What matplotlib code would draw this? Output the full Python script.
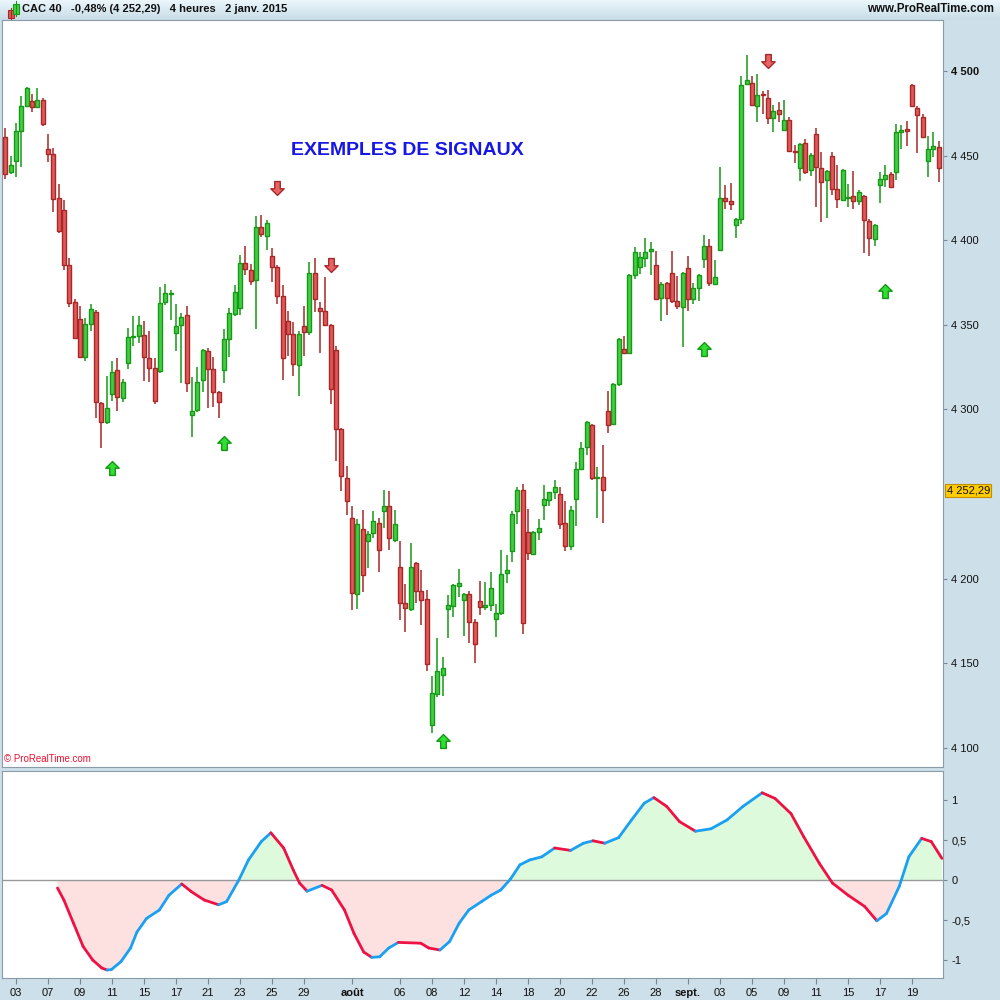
import numpy as np
import pandas as pd
import matplotlib
matplotlib.use("Agg")
import matplotlib.pyplot as plt
from matplotlib.path import Path
from matplotlib.collections import LineCollection
from matplotlib.patches import Rectangle

plt.rcParams['font.family'] = ['Liberation Sans', 'DejaVu Sans']

# CAC 40, bougies 4 heures (3 par jour), 2 juil. -> 22 sept. 2014
opens = [4460.8, 4440.1, 4446.6, 4464.4, 4479.1, 4482.1, 4478.6, 4482.7, 4453.7, 4450.8,
         4424.8, 4417.7, 4385.2, 4363.3, 4353.3, 4330.8, 4350.3, 4357.4, 4303.7, 4292.4,
         4309.0, 4323.2, 4306.6, 4327.3, 4343.0, 4343.3, 4343.8, 4330.3, 4324.3, 4322.6,
         4363.3, 4368.2, 4345.4, 4349.8, 4355.7, 4296.6, 4299.5, 4317.3, 4334.4, 4323.8,
         4310.2, 4323.2, 4341.5, 4356.3, 4359.8, 4386.4, 4382.3, 4376.3, 4407.7, 4402.3,
         4390.5, 4384.0, 4366.9, 4352.1, 4344.4, 4326.1, 4349.2, 4345.6, 4380.5, 4359.8,
         4358.0, 4349.8, 4335.0, 4288.3, 4259.4, 4235.7, 4190.8, 4229.2, 4222.1, 4226.9,
         4232.8, 4239.9, 4242.8, 4222.7, 4206.8, 4185.5, 4181.9, 4209.1, 4192.6, 4187.9,
         4113.4, 4131.7, 4143.0, 4181.9, 4183.7, 4195.5, 4187.3, 4190.8, 4174.3, 4186.7,
         4183.1, 4184.3, 4176.0, 4179.6, 4203.2, 4216.2, 4239.9, 4252.3, 4227.5, 4214.5,
         4227.5, 4243.4, 4246.4, 4251.1, 4249.9, 4232.8, 4219.2, 4246.9, 4264.7, 4277.7,
         4290.7, 4259.6, 4259.9, 4298.9, 4291.3, 4314.9, 4335.6, 4333.2, 4379.3, 4384.0,
         4389.3, 4393.5, 4385.2, 4365.7, 4374.6, 4380.5, 4363.9, 4360.4, 4383.4, 4365.1,
         4371.6, 4388.7, 4396.4, 4374.0, 4394.1, 4424.8, 4423.0, 4408.8, 4412.4, 4492.1,
         4492.7, 4479.1, 4486.4, 4483.9, 4472.1, 4476.8, 4465.0, 4470.9, 4452.9, 4442.5,
         4457.3, 4441.3, 4462.6, 4442.5, 4435.4, 4449.6, 4430.1, 4423.6, 4425.2, 4426.0,
         4423.0, 4426.0, 4411.2, 4400.6, 4432.5, 4436.0, 4439.0, 4440.1, 4463.8, 4465.6,
         4491.6, 4478.0, 4472.6, 4446.6, 4453.7, 4454.9]
highs = [4466.3, 4449.6, 4469.1, 4485.1, 4490.4, 4486.2, 4489.8, 4483.9, 4462.8, 4454.3,
         4433.1, 4423.6, 4389.3, 4365.1, 4361.0, 4353.9, 4362.2, 4358.5, 4304.3, 4319.6,
         4328.5, 4330.3, 4317.9, 4348.0, 4355.1, 4355.1, 4352.1, 4346.2, 4330.3, 4372.2,
         4374.0, 4370.6, 4362.3, 4356.8, 4361.2, 4319.2, 4325.1, 4335.6, 4336.2, 4330.8,
         4311.1, 4347.6, 4360.0, 4373.4, 4391.1, 4396.6, 4385.8, 4414.2, 4414.7, 4411.8,
         4395.2, 4385.2, 4373.4, 4358.0, 4351.5, 4346.2, 4361.2, 4387.0, 4389.3, 4363.3,
         4378.1, 4350.5, 4337.3, 4289.0, 4266.4, 4242.8, 4235.1, 4240.4, 4228.0, 4239.9,
         4235.7, 4252.3, 4251.7, 4240.4, 4222.1, 4196.7, 4221.0, 4210.0, 4205.0, 4193.2,
         4142.4, 4164.8, 4153.6, 4190.2, 4196.8, 4205.6, 4191.4, 4192.6, 4176.0, 4198.5,
         4197.9, 4203.8, 4184.9, 4216.8, 4213.9, 4239.9, 4254.0, 4255.8, 4241.0, 4228.0,
         4235.1, 4255.2, 4251.5, 4258.2, 4254.0, 4245.8, 4242.8, 4268.8, 4280.6, 4293.0,
         4291.5, 4265.9, 4278.9, 4310.8, 4315.5, 4342.1, 4343.3, 4379.9, 4395.8, 4392.9,
         4401.2, 4398.8, 4393.5, 4375.2, 4375.2, 4393.5, 4378.7, 4381.0, 4390.5, 4374.6,
         4379.9, 4402.9, 4400.6, 4388.2, 4443.1, 4432.5, 4433.7, 4413.0, 4496.9, 4509.3,
         4496.9, 4498.0, 4488.0, 4488.6, 4479.7, 4481.5, 4482.7, 4472.6, 4456.1, 4457.3,
         4459.6, 4451.4, 4466.1, 4452.0, 4441.3, 4452.0, 4444.3, 4441.9, 4433.1, 4440.7,
         4429.5, 4426.6, 4412.4, 4409.4, 4440.1, 4444.3, 4440.1, 4468.5, 4467.9, 4470.3,
         4492.1, 4479.1, 4474.4, 4461.4, 4463.8, 4458.5]
lows = [4436.0, 4439.0, 4437.2, 4443.1, 4478.6, 4476.0, 4478.0, 4467.5, 4446.1, 4416.5,
        4404.1, 4382.3, 4360.4, 4341.5, 4330.3, 4328.5, 4346.2, 4294.8, 4277.1, 4291.5,
        4304.8, 4298.9, 4304.3, 4323.8, 4337.3, 4339.1, 4316.7, 4316.1, 4303.1, 4321.5,
        4361.6, 4352.9, 4334.7, 4315.5, 4310.5, 4283.9, 4298.4, 4310.2, 4300.7, 4301.7,
        4294.8, 4315.5, 4331.2, 4355.5, 4355.7, 4379.5, 4373.4, 4347.4, 4401.7, 4394.1,
        4375.2, 4362.2, 4317.3, 4331.8, 4319.6, 4307.8, 4331.8, 4343.8, 4357.4, 4333.6,
        4349.2, 4303.1, 4269.8, 4251.7, 4237.5, 4181.4, 4181.9, 4192.0, 4206.2, 4223.9,
        4203.8, 4229.8, 4216.8, 4221.5, 4175.6, 4168.7, 4181.0, 4185.5, 4172.5, 4145.7,
        4108.7, 4130.0, 4130.6, 4164.8, 4177.2, 4189.0, 4166.0, 4161.9, 4150.1, 4178.4,
        4181.4, 4180.8, 4165.4, 4178.8, 4197.3, 4209.7, 4232.2, 4167.2, 4210.9, 4214.0,
        4222.7, 4234.5, 4242.8, 4246.9, 4229.2, 4216.2, 4216.8, 4231.0, 4264.0, 4272.9,
        4258.5, 4235.7, 4232.8, 4285.9, 4290.7, 4313.7, 4332.6, 4332.6, 4376.9, 4379.9,
        4384.0, 4379.3, 4364.5, 4352.5, 4355.7, 4362.8, 4359.2, 4336.8, 4358.0, 4362.2,
        4363.9, 4383.4, 4372.8, 4373.4, 4393.5, 4418.3, 4417.7, 4401.2, 4409.4, 4491.6,
        4479.1, 4469.7, 4474.4, 4468.5, 4463.8, 4469.7, 4464.4, 4452.0, 4445.5, 4434.8,
        4439.0, 4437.8, 4419.5, 4410.6, 4413.0, 4426.6, 4418.9, 4423.0, 4419.5, 4418.3,
        4420.6, 4392.3, 4390.5, 4396.4, 4421.8, 4431.3, 4430.7, 4435.4, 4453.7, 4455.5,
        4478.6, 4451.4, 4460.2, 4437.2, 4449.0, 4434.2]
closes = [4439.0, 4444.3, 4464.4, 4479.1, 4489.8, 4478.6, 4482.7, 4468.5, 4450.8, 4424.2,
          4405.3, 4385.2, 4362.8, 4342.1, 4330.8, 4350.3, 4359.2, 4304.3, 4292.4, 4300.7,
          4322.0, 4307.2, 4316.1, 4342.7, 4343.5, 4349.8, 4330.8, 4324.3, 4304.8, 4362.8,
          4368.7, 4368.6, 4349.3, 4354.7, 4315.5, 4298.9, 4316.1, 4335.0, 4323.8, 4310.2,
          4304.3, 4341.5, 4356.8, 4369.3, 4386.4, 4382.8, 4375.8, 4407.7, 4403.5, 4410.0,
          4384.0, 4366.9, 4330.3, 4344.4, 4326.7, 4344.4, 4345.6, 4380.5, 4365.1, 4358.0,
          4349.8, 4311.9, 4288.3, 4260.5, 4245.8, 4191.4, 4232.2, 4202.0, 4226.3, 4234.0,
          4216.8, 4242.8, 4223.9, 4232.2, 4185.5, 4182.5, 4206.8, 4192.6, 4187.3, 4149.5,
          4132.3, 4145.3, 4147.1, 4184.3, 4196.1, 4197.3, 4190.8, 4174.3, 4161.3, 4183.1,
          4184.3, 4194.4, 4179.6, 4202.6, 4205.0, 4238.1, 4252.3, 4173.7, 4215.0, 4227.5,
          4229.8, 4246.9, 4251.1, 4254.0, 4232.2, 4219.2, 4240.4, 4264.7, 4277.1, 4292.4,
          4259.4, 4260.2, 4252.3, 4290.7, 4314.9, 4341.5, 4333.2, 4379.3, 4392.9, 4389.9,
          4392.9, 4394.7, 4365.1, 4374.0, 4365.7, 4363.9, 4361.0, 4380.5, 4365.1, 4371.6,
          4379.3, 4396.4, 4374.6, 4378.1, 4424.8, 4423.0, 4421.2, 4412.4, 4491.6, 4494.5,
          4479.7, 4485.6, 4486.0, 4472.1, 4476.2, 4474.4, 4470.9, 4452.6, 4452.3, 4456.7,
          4440.1, 4450.2, 4443.1, 4434.2, 4440.7, 4430.1, 4424.2, 4441.3, 4425.6, 4423.0,
          4428.3, 4411.8, 4401.2, 4408.8, 4436.0, 4438.4, 4431.3, 4463.8, 4465.0, 4464.4,
          4479.1, 4473.8, 4460.8, 4453.7, 4455.5, 4442.5]

# signaux : numero de bougie et niveau de la fleche
buy_idx = [20, 41, 82, 131, 165]
buy_lvl = [4265.4, 4280.2, 4104.1, 4335.7, 4370.0]
sell_idx = [51, 61, 143]
sell_lvl = [4430.9, 4385.4, 4505.9]

# oscillateur (position en bougies, valeur)
osc_x = [9.8, 11.0, 12.8, 14.6, 16.4, 18.1, 19.1, 19.9, 21.7, 23.5, 24.7, 26.5, 28.9, 30.7,
         33.1, 34.9, 37.3, 40.0, 41.5, 43.8, 45.6, 48.0, 49.8, 52.2, 54.0, 55.2, 56.6, 59.4,
         61.2, 63.6, 65.4, 67.2, 68.7, 70.2, 71.9, 73.7, 77.9, 79.4, 81.5, 83.3, 85.1, 86.9,
         89.3, 91.1, 92.9, 94.7, 96.5, 98.3, 100.6, 103.0, 106.0, 108.4, 110.2, 112.4, 115.0,
         117.4, 119.8, 121.6, 124.0, 126.4, 129.4, 132.3, 135.3, 138.3, 141.9, 144.3, 147.3,
         149.7, 152.6, 155.1, 158.0, 161.1, 163.4, 165.2, 167.6, 169.4, 171.8, 173.6, 175.6]
osc_v = [-0.10, -0.25, -0.54, -0.83, -1.00, -1.10, -1.125, -1.12, -1.02, -0.85, -0.65, -0.48,
         -0.375, -0.19, -0.05, -0.146, -0.25, -0.31, -0.27, 0.0, 0.25, 0.48, 0.59, 0.40, 0.125,
         -0.04, -0.14, -0.067, -0.125, -0.375, -0.67, -0.90, -0.967, -0.96, -0.85, -0.78, -0.79,
         -0.85, -0.875, -0.77, -0.54, -0.375, -0.27, -0.19, -0.125, 0.01, 0.19, 0.25, 0.29, 0.40,
         0.37, 0.46, 0.49, 0.46, 0.53, 0.75, 0.96, 1.03, 0.92, 0.73, 0.61, 0.64, 0.75, 0.92, 1.09,
         1.02, 0.83, 0.54, 0.21, -0.04, -0.19, -0.33, -0.51, -0.42, -0.08, 0.29, 0.52, 0.48, 0.27]

tick_dates = ['2014-07-03', '2014-07-07', '2014-07-09', '2014-07-11', '2014-07-15', '2014-07-17',
              '2014-07-21', '2014-07-23', '2014-07-25', '2014-07-29', '2014-08-01', '2014-08-06',
              '2014-08-08', '2014-08-12', '2014-08-14', '2014-08-18', '2014-08-20', '2014-08-22',
              '2014-08-26', '2014-08-28', '2014-09-01', '2014-09-03', '2014-09-05', '2014-09-09',
              '2014-09-11', '2014-09-15', '2014-09-17', '2014-09-19']
tick_labels = ['03', '07', '09', '11', '15', '17', '21', '23', '25', '29', 'août', '06', '08',
               '12', '14', '18', '20', '22', '26', '28', 'sept.', '03', '05', '09', '11', '15',
               '17', '19']

# 4 250 est cache par l'etiquette du dernier cours
price_ticks = [4100, 4150, 4200, 4300, 4350, 4400, 4450, 4500]
last_price = 4252.29

GREEN_FILL, GREEN_EDGE = '#44cc44', '#169916'
RED_FILL, RED_EDGE = '#e05858', '#a82828'
PANEL_BG = '#cddfe8'

o = np.array(opens); h = np.array(highs); l = np.array(lows); c = np.array(closes)
n = len(o)
x = np.arange(n)

# position des dates : 3 bougies par jour, la premiere bougie = 2e du 2 juillet
days = pd.bdate_range('2014-07-02', '2014-09-30')
day_pos = {d.strftime('%Y-%m-%d'): 3 * i - 1 for i, d in enumerate(days)}
tick_pos = [day_pos[d] for d in tick_dates]

fig = plt.figure(figsize=(10, 10), dpi=100)
fig.patch.set_facecolor(PANEL_BG)

# bandeau du haut
hdr = fig.add_axes([0, 0.98, 1, 0.02])
grad = np.linspace(0, 1, 20).reshape(-1, 1)
hdr.imshow(grad, aspect='auto', cmap=matplotlib.colors.LinearSegmentedColormap.from_list(
    'hdr', ['#eaf6fb', '#c9dde8']), extent=[0, 1, 0, 1])
hdr.set_axis_off()
hdr.add_patch(Rectangle((0.008, 0.12), 0.006, 0.4, facecolor=RED_FILL, edgecolor=RED_EDGE, lw=0.8))
hdr.plot([0.011, 0.011], [0.05, 0.6], color=RED_EDGE, lw=0.8)
hdr.add_patch(Rectangle((0.013, 0.3), 0.006, 0.5, facecolor=GREEN_FILL, edgecolor=GREEN_EDGE, lw=0.8))
hdr.plot([0.016, 0.016], [0.2, 0.95], color=GREEN_EDGE, lw=0.8)
hdr.set_xlim(0, 1); hdr.set_ylim(0, 1)
fig.text(0.022, 0.9905, 'CAC 40   -0,48% (4 252,29)   4 heures   2 janv. 2015',
         fontsize=8.0, va='center', ha='left', color='#111111', weight='bold')
fig.text(0.994, 0.9905, 'www.ProRealTime.com', fontsize=8.3, va='center', ha='right',
         color='#111111', weight='bold')

# graphique des prix
ax = fig.add_axes([0.002, 0.233, 0.941, 0.747])
ax.set_facecolor('white')
up = c >= o
wick_col = np.where(up, GREEN_EDGE, RED_EDGE)
ax.vlines(x, l, h, colors=wick_col, linewidth=1.1, zorder=2)
body_lo = np.minimum(o, c)
body_h = np.maximum(np.abs(c - o), 0.6)
ax.bar(x[up], body_h[up], bottom=body_lo[up], width=0.75, color=GREEN_FILL,
       edgecolor=GREEN_EDGE, linewidth=1.0, zorder=3)
ax.bar(x[~up], body_h[~up], bottom=body_lo[~up], width=0.75, color=RED_FILL,
       edgecolor=RED_EDGE, linewidth=1.0, zorder=3)

up_arrow = Path([(-0.2, -0.5), (0.2, -0.5), (0.2, 0.02), (0.48, 0.02), (0.0, 0.5),
                 (-0.48, 0.02), (-0.2, 0.02), (-0.2, -0.5)], closed=True)
down_arrow = Path([(vx, -vy) for vx, vy in up_arrow.vertices], closed=True)
ax.plot(buy_idx, buy_lvl, linestyle='none', marker=up_arrow, markersize=10,
        markerfacecolor='#33dd33', markeredgecolor='#119911', markeredgewidth=1, zorder=4)
ax.plot(sell_idx, sell_lvl, linestyle='none', marker=down_arrow, markersize=10,
        markerfacecolor='#e86464', markeredgecolor='#a82828', markeredgewidth=1, zorder=4)

ax.text(0.431, 0.825, 'EXEMPLES DE SIGNAUX', transform=ax.transAxes, ha='center',
        va='center', fontsize=14, weight='bold', color='#1616e6')
ax.text(0.002, 0.004, '© ProRealTime.com', transform=ax.transAxes, ha='left',
        va='bottom', fontsize=7, color='#ee1133')

ax.set_xlim(-0.6, n - 0.2)
ax.set_ylim(4088.8, 4530.1)
ax.set_xticks([])
ax.yaxis.tick_right()
ax.set_yticks(price_ticks)
ax.set_yticklabels([f'{p:,}'.replace(',', ' ') for p in price_ticks])
ax.tick_params(axis='y', direction='out', length=3, width=0.8, color='#778899',
               labelsize=8, pad=3, labelcolor='#111111')
for lab in ax.get_yticklabels():
    if lab.get_text() == '4 500':
        lab.set_fontweight('bold')
for s in ax.spines.values():
    s.set_color('#8a9aa6')
ax.text(1.004, last_price, '4 252,29', transform=ax.get_yaxis_transform(), ha='left',
        va='center', fontsize=8, color='#111111',
        bbox=dict(boxstyle='square,pad=0.12', facecolor='#ffcc00', edgecolor='#c09000', lw=0.8))

# oscillateur
ax2 = fig.add_axes([0.002, 0.022, 0.941, 0.207])
ax2.set_facecolor('white')
ox = np.array(osc_x); ov = np.array(osc_v)
ax2.fill_between(ox, ov, 0, where=ov >= 0, interpolate=True, color='#ddfadd', lw=0)
ax2.fill_between(ox, ov, 0, where=ov <= 0, interpolate=True, color='#fde0e0', lw=0)
ax2.axhline(0, color='#999999', lw=1)
segs = np.stack([np.column_stack([ox[:-1], ov[:-1]]), np.column_stack([ox[1:], ov[1:]])], axis=1)
seg_col = np.where(np.diff(ov) >= 0, '#1aa0f0', '#ee1144')
ax2.add_collection(LineCollection(segs, colors=seg_col, linewidths=2, capstyle='round'))
ax2.set_xlim(-0.6, n - 0.2)
ax2.set_ylim(-1.225, 1.3625)
ax2.yaxis.tick_right()
ax2.set_yticks([-1, -0.5, 0, 0.5, 1])
ax2.set_yticklabels(['-1', '-0,5', '0', '0,5', '1'])
ax2.tick_params(axis='y', direction='out', length=3, width=0.8, color='#778899',
                labelsize=8, pad=3, labelcolor='#111111')
ax2.set_xticks(tick_pos)
ax2.set_xticklabels(tick_labels)
ax2.tick_params(axis='x', direction='out', length=4, width=0.8, color='#778899',
                labelsize=8, pad=3, labelcolor='#111111')
for lab in ax2.get_xticklabels():
    if lab.get_text() in ('août', 'sept.'):
        lab.set_fontweight('bold')
for s in ax2.spines.values():
    s.set_color('#8a9aa6')

fig.savefig('out.png', dpi=100, facecolor=fig.get_facecolor())
